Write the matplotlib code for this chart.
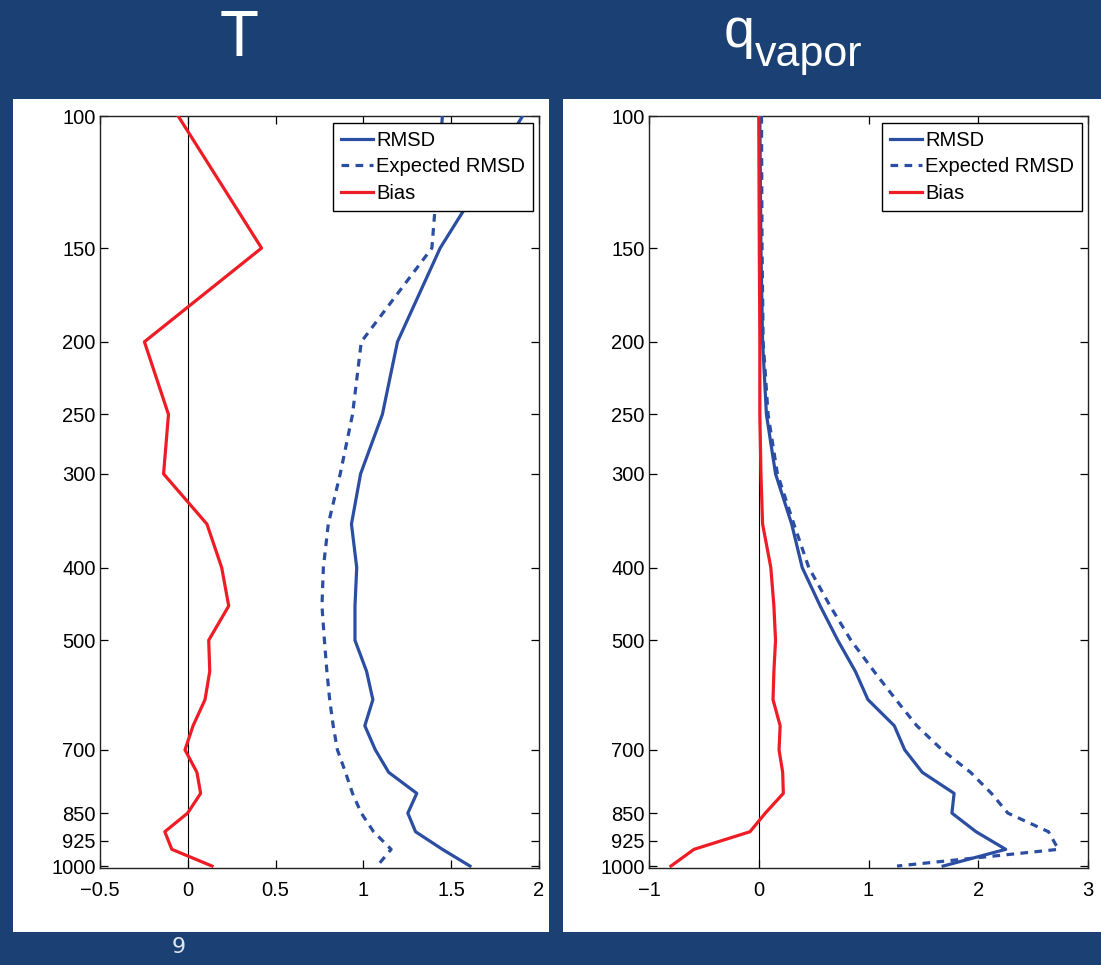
import matplotlib
matplotlib.use("Agg")
import matplotlib.pyplot as plt
from matplotlib.patches import Rectangle

# pressure levels (hPa)
levels = [100, 150, 200, 250, 300, 350, 400, 450, 500, 550,
          600, 650, 700, 750, 800, 850, 900, 950, 1000]

# temperature panel
t_rmsd = [1.907, 1.437, 1.194, 1.108, 0.984, 0.932, 0.962, 0.952, 0.952, 1.018,
          1.054, 1.008, 1.068, 1.144, 1.304, 1.253, 1.297, 1.45, 1.607]
t_expected = [1.45, 1.39, 0.988, 0.938, 0.868, 0.80, 0.772, 0.764, 0.778, 0.792,
              0.808, 0.828, 0.852, 0.898, 0.938, 0.988, 1.058, 1.158, 1.078]
t_bias = [-0.055, 0.42, -0.247, -0.11, -0.138, 0.109, 0.193, 0.233, 0.119, 0.125,
          0.098, 0.030, -0.016, 0.052, 0.073, -0.001, -0.131, -0.091, 0.138]

# water vapour panel
q_rmsd = [0.01, 0.02, 0.035, 0.07, 0.153, 0.30, 0.396, 0.56, 0.72, 0.88,
          0.995, 1.235, 1.33, 1.49, 1.78, 1.76, 1.98, 2.25, 1.68]
q_expected = [0.025, 0.03, 0.04, 0.085, 0.17, 0.32, 0.456, 0.65, 0.84, 1.05,
              1.25, 1.44, 1.67, 1.93, 2.12, 2.27, 2.64, 2.73, 1.26]
q_bias = [0.0, 0.005, 0.01, 0.01, 0.02, 0.035, 0.11, 0.138, 0.153, 0.138,
          0.13, 0.195, 0.185, 0.218, 0.224, 0.06, -0.08, -0.59, -0.80]

y_ticks = [100, 150, 200, 250, 300, 400, 500, 700, 850, 925, 1000]
t_xticks = [-0.5, 0, 0.5, 1, 1.5, 2]
q_xticks = [-1, 0, 1, 2, 3]

BG = "#1b4174"
BLUE = "#2b4ea2"
RED = "#ee1c25"
W, H = 1101, 965

plt.rcParams["font.family"] = ["Liberation Sans", "DejaVu Sans"]

fig = plt.figure(figsize=(W / 100, H / 100), dpi=100, facecolor=BG)


def px_rect(x0, y0, x1, y1):
    return [x0 / W, 1 - y1 / H, (x1 - x0) / W, (y1 - y0) / H]


# white slide panels, kept behind the axes
for x0, x1 in [(13, 549), (563, 1101)]:
    l, b, w, h = px_rect(x0, 99, x1, 932)
    fig.patches.append(Rectangle((l, b), w, h, transform=fig.transFigure,
                                 facecolor="white", edgecolor="none", zorder=-5))


def draw_panel(ax, rmsd, expected, bias, xlim, xticks):
    ax.axvline(0, color="black", linewidth=0.8, zorder=1)
    ax.plot(rmsd, levels, color=BLUE, linewidth=2.3, label="RMSD", zorder=3)
    ax.plot(expected, levels, color=BLUE, linewidth=2.3, linestyle=(0, (2.4, 2.0)),
            label="Expected RMSD", zorder=3)
    ax.plot(bias, levels, color=RED, linewidth=2.3, label="Bias", zorder=3)
    ax.set_yscale("log")
    ax.set_ylim(1006, 100)
    ax.set_xlim(*xlim)
    ax.set_yticks(y_ticks)
    ax.set_yticklabels([str(v) for v in y_ticks])
    ax.minorticks_off()
    ax.set_xticks(xticks)
    ax.set_xticklabels([f"{v:g}".replace("-", "\u2212") for v in xticks])
    ax.tick_params(direction="in", length=6, width=0.9, top=True, right=True,
                   labelsize=14.5, colors="black")
    ax.tick_params(axis="y", pad=3)
    ax.tick_params(axis="x", pad=9)
    for s in ax.spines.values():
        s.set_linewidth(1.0)
        s.set_color("#222222")
    leg = ax.legend(loc="upper right", bbox_to_anchor=(1 - 6 / 439, 1 - 6.5 / 750),
                    borderaxespad=0, fontsize=14.5, fancybox=False, framealpha=1,
                    edgecolor="black", handlelength=1.6, handletextpad=0.15,
                    labelspacing=0.38, borderpad=0.4)
    leg.get_frame().set_linewidth(1.0)


ax1 = fig.add_axes(px_rect(100, 116, 539, 868))
ax1.set_zorder(2)
draw_panel(ax1, t_rmsd, t_expected, t_bias, (-0.5, 2), t_xticks)
ax2 = fig.add_axes(px_rect(649, 116, 1088, 868))
ax2.set_zorder(2)
draw_panel(ax2, q_rmsd, q_expected, q_bias, (-1, 3), q_xticks)

# slide titles
fig.text(239.5 / W, 1 - 56 / H, "T", color="white", fontsize=46,
         ha="center", va="baseline")
fig.text(724 / W, 1 - 47 / H, "q", color="white", fontsize=40,
         ha="left", va="baseline")
fig.text(755 / W, 1 - 66 / H, "vapor", color="white", fontsize=31,
         ha="left", va="baseline")

# slide number
fig.text(179 / W, 1 - 953 / H, "9", color="#dfe6ef", fontsize=16,
         family=["DejaVu Sans"], ha="center", va="baseline")

fig.savefig("out.png", dpi=100, facecolor=BG)
